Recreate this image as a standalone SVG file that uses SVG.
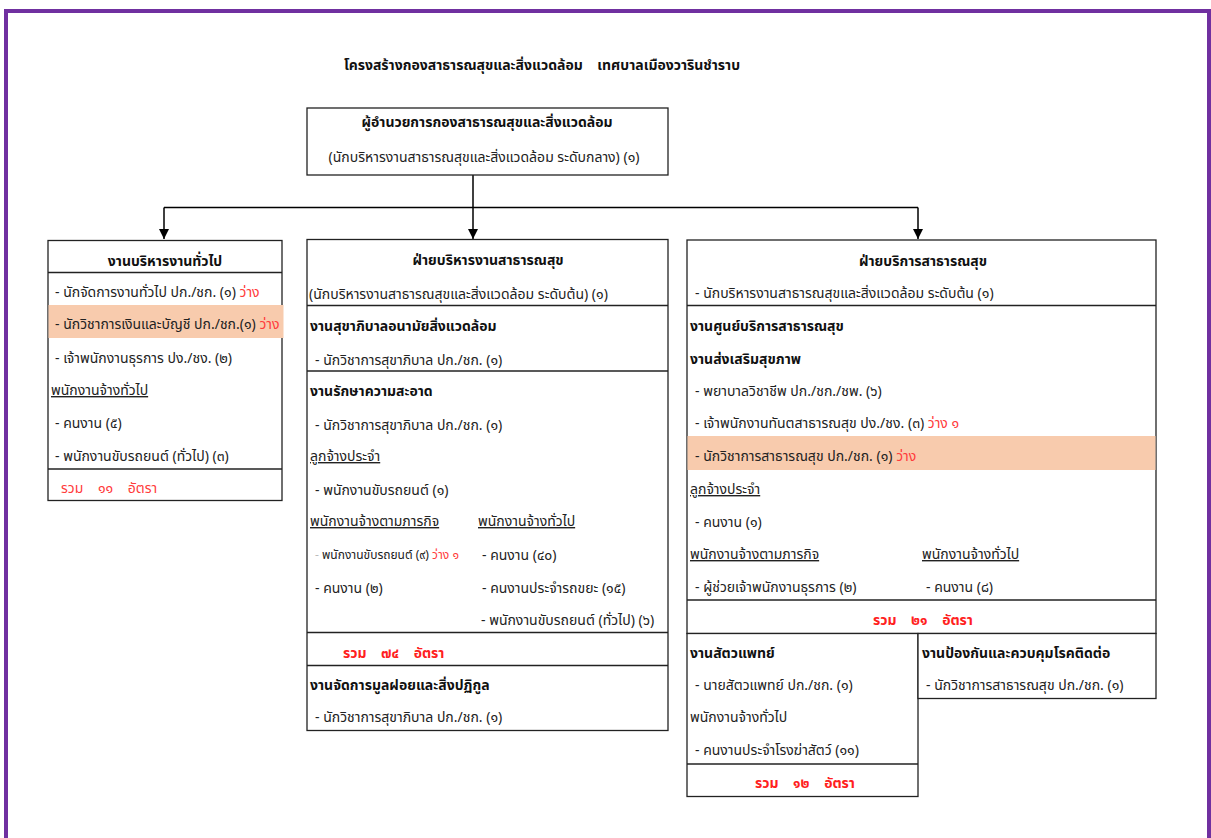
<svg xmlns="http://www.w3.org/2000/svg" width="1211" height="838" viewBox="0 0 1211 838" xml:space="preserve">
<style>
text{font-family:"Noto Sans Thai","Noto Sans","DejaVu Sans",sans-serif;font-size:14px;fill:#222;white-space:pre}
.b{font-weight:bold;fill:#111}
.r{fill:#ff3b3b}
.rb{fill:#ff2020;font-weight:bold}
.u{text-decoration:underline}
.c{text-anchor:middle}
.box{fill:#fff;stroke:#222;stroke-width:1.3}
.ln{stroke:#222;stroke-width:1.3;fill:none}
.hl{fill:#f8cbad}
.con{stroke:#000;stroke-width:1.5;fill:none}
</style>
<defs>
<marker id="ah" viewBox="0 0 10 10" refX="10" refY="5" markerWidth="10" markerHeight="10" markerUnits="userSpaceOnUse" orient="auto"><path d="M0,0 L10,5 L0,10 z" fill="#000"/></marker>
</defs>
<rect x="0" y="0" width="1211" height="838" fill="#fff"/>
<rect x="6" y="11" width="1203" height="860" fill="none" stroke="#7030a0" stroke-width="4"/>
<text class="b c" x="542" y="70">โครงสร้างกองสาธารณสุขและสิ่งแวดล้อม    เทศบาลเมืองวารินชำราบ</text>

<g id="connectors">
<path class="con" d="M473,175 V239" marker-end="url(#ah)"/>
<path class="con" d="M164,207.5 H918"/>
<path class="con" d="M164,207.5 V239" marker-end="url(#ah)"/>
<path class="con" d="M918,207.5 V239" marker-end="url(#ah)"/>
</g>

<g id="director">
<rect class="box" x="307" y="108" width="361" height="67"/>
<text class="b c" x="487" y="127">ผู้อำนวยการกองสาธารณสุขและสิ่งแวดล้อม</text>
<text class="c" x="484" y="162">(นักบริหารงานสาธารณสุขและสิ่งแวดล้อม ระดับกลาง) (๑)</text>
</g>

<g id="general-admin">
<rect class="box" x="48" y="240.5" width="234" height="260"/>
<line class="ln" x1="48" y1="272.5" x2="282" y2="272.5"/>
<rect class="hl" x="48.5" y="305" width="235" height="33"/>
<line class="ln" x1="48" y1="469" x2="282" y2="469"/>
<text class="b c" x="165" y="266">งานบริหารงานทั่วไป</text>
<text x="55" y="297">- นักจัดการงานทั่วไป ปก./ชก. (๑) <tspan class="r">ว่าง</tspan></text>
<text x="55" y="329">- นักวิชาการเงินและบัญชี ปก./ชก.(๑) <tspan class="r">ว่าง</tspan></text>
<text x="55" y="363">- เจ้าพนักงานธุรการ ปง./ชง. (๒)</text>
<text class="u" x="51" y="395">พนักงานจ้างทั่วไป</text>
<text x="55" y="428">- คนงาน (๕)</text>
<text x="55" y="461">- พนักงานขับรถยนต์ (ทั่วไป) (๓)</text>
<text class="r" x="61" y="493">รวม    ๑๑    อัตรา</text>
</g>

<g id="public-health-admin">
<rect class="box" x="307" y="239.5" width="361" height="491"/>
<line class="ln" x1="307" y1="305.5" x2="668" y2="305.5"/>
<line class="ln" x1="307" y1="371" x2="668" y2="371"/>
<line class="ln" x1="307" y1="632.5" x2="668" y2="632.5"/>
<line class="ln" x1="307" y1="665.5" x2="668" y2="665.5"/>
<text class="b c" x="488" y="265">ฝ่ายบริหารงานสาธารณสุข</text>
<text x="309" y="299">(นักบริหารงานสาธารณสุขและสิ่งแวดล้อม ระดับต้น) (๑)</text>
<text class="b" x="310" y="331">งานสุขาภิบาลอนามัยสิ่งแวดล้อม</text>
<text x="315" y="365">- นักวิชาการสุขาภิบาล ปก./ชก. (๑)</text>
<text class="b" x="310" y="396">งานรักษาความสะอาด</text>
<text x="315" y="430">- นักวิชาการสุขาภิบาล ปก./ชก. (๑)</text>
<text class="u" x="310" y="461">ลูกจ้างประจำ</text>
<text x="315" y="495">- พนักงานขับรถยนต์ (๑)</text>
<text class="u" x="310" y="526">พนักงานจ้างตามภารกิจ</text>
<text class="u" x="478" y="526">พนักงานจ้างทั่วไป</text>
<text x="315" y="559" style="font-size:12px"><tspan fill="#bbb">-</tspan> พนักงานขับรถยนต์ (๙) <tspan class="r">ว่าง ๑</tspan></text>
<text x="482" y="560">- คนงาน (๔๐)</text>
<text x="315" y="593">- คนงาน (๒)</text>
<text x="482" y="593">- คนงานประจำรถขยะ (๑๕)</text>
<text x="481" y="625">- พนักงานขับรถยนต์ (ทั่วไป) (๖)</text>
<text class="rb" x="343" y="658">รวม    ๗๔    อัตรา</text>
<text class="b" x="310" y="690">งานจัดการมูลฝอยและสิ่งปฏิกูล</text>
<text x="315" y="722">- นักวิชาการสุขาภิบาล ปก./ชก. (๑)</text>
</g>

<g id="public-health-service">
<rect class="box" x="687" y="240" width="469" height="393.5"/>
<line class="ln" x1="687" y1="305.5" x2="1156" y2="305.5"/>
<rect class="hl" x="687.5" y="436" width="468" height="34"/>
<line class="ln" x1="687" y1="600" x2="1156" y2="600"/>
<text class="b c" x="923" y="266">ฝ่ายบริการสาธารณสุข</text>
<text x="695" y="298">- นักบริหารงานสาธารณสุขและสิ่งแวดล้อม ระดับต้น (๑)</text>
<text class="b" x="690" y="331">งานศูนย์บริการสาธารณสุข</text>
<text class="b" x="690" y="364">งานส่งเสริมสุขภาพ</text>
<text x="695" y="396">- พยาบาลวิชาชีพ ปก./ชก./ชพ. (๖)</text>
<text x="695" y="428">- เจ้าพนักงานทันตสาธารณสุข ปง./ชง. (๓) <tspan class="r">ว่าง ๑</tspan></text>
<text x="695" y="461">- นักวิชาการสาธารณสุข ปก./ชก. (๑) <tspan class="r">ว่าง</tspan></text>
<text class="u" x="690" y="494">ลูกจ้างประจำ</text>
<text x="695" y="527">- คนงาน (๑)</text>
<text class="u" x="690" y="559">พนักงานจ้างตามภารกิจ</text>
<text class="u" x="922" y="559">พนักงานจ้างทั่วไป</text>
<text x="695" y="592">- ผู้ช่วยเจ้าพนักงานธุรการ (๒)</text>
<text x="926" y="592">- คนงาน (๘)</text>
<text class="rb c" x="923" y="625">รวม    ๒๑    อัตรา</text>
</g>

<g id="veterinary">
<rect class="box" x="687" y="633.5" width="231" height="163"/>
<line class="ln" x1="687" y1="764" x2="918" y2="764"/>
<text class="b" x="690" y="658">งานสัตวแพทย์</text>
<text x="695" y="690">- นายสัตวแพทย์ ปก./ชก. (๑)</text>
<text x="690" y="722">พนักงานจ้างทั่วไป</text>
<text x="695" y="755">- คนงานประจำโรงฆ่าสัตว์ (๑๑)</text>
<text class="rb c" x="805" y="788">รวม    ๑๒    อัตรา</text>
</g>

<g id="disease-control">
<rect class="box" x="918" y="633.5" width="238" height="65"/>
<text class="b" x="922" y="658">งานป้องกันและควบคุมโรคติดต่อ</text>
<text x="926" y="690">- นักวิชาการสาธารณสุข ปก./ชก. (๑)</text>
</g>
</svg>
